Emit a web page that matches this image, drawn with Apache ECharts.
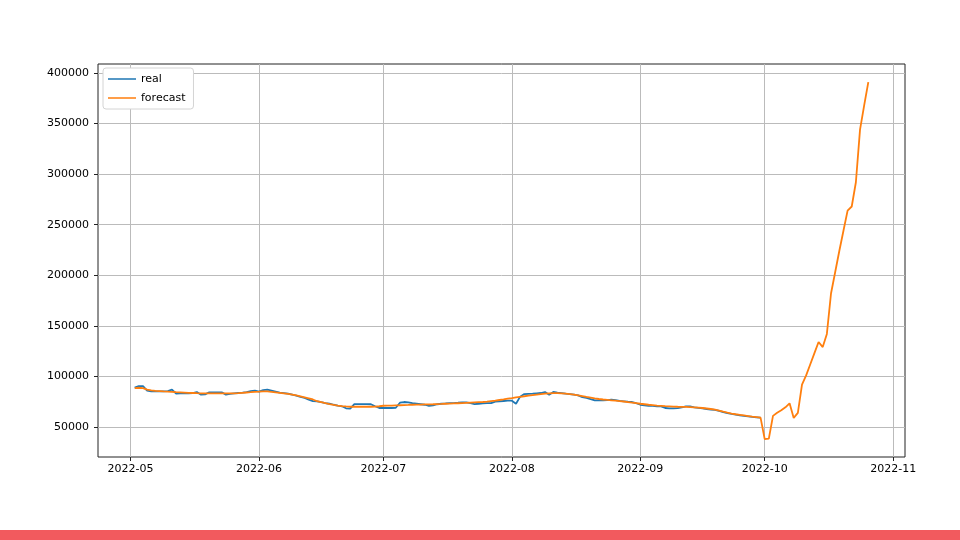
<!DOCTYPE html>
<html>
<head>
<meta charset="utf-8">
<script src="https://cdn.jsdelivr.net/npm/echarts@6/dist/echarts.min.js"></script>
<style>
    html, body { margin: 0; padding: 0; background: #fff; }
    #chart { width: 960px; height: 540px; }
</style>
</head>
<body>
<div id="chart"></div>
<script>
// 实际值 (2022-05-02 起, 按天)
var realMay = [89000, 90500, 90500, 86000, 85300, 85300, 85300, 85300, 85500, 87000,
    83000, 83300, 83300, 83300, 83500, 84600, 82000, 82300, 84300, 84300,
    84300, 84300, 82000, 82800, 83200, 83600, 84000, 84500, 85500, 86000];
var realJun = [85000, 86500, 87000, 86000, 85000, 84000, 83500, 83000, 82000, 81000,
    79800, 78700, 77000, 75500, 75400, 74500, 73700, 73000, 72000, 71100,
    70500, 68500, 68100, 72700, 72700, 72700, 72700, 72500, 70500, 68800];
var realJul = [68800, 68800, 68800, 69000, 74000, 74700, 74400, 73500, 73000, 72500,
    72000, 71000, 71500, 72500, 73000, 73300, 73700, 73700, 74000, 74400,
    74400, 73500, 72700, 73000, 73300, 73700, 73700, 75000, 75400, 75700, 76000];
var realAug = [76000, 73000, 80000, 82600, 82800, 83000, 83300, 83600, 84600, 82000,
    84600, 84000, 83500, 82900, 82500, 82000, 81300, 79500, 78700, 77500,
    76400, 76300, 76300, 76600, 77000, 76500, 75800, 75400, 75000, 74700, 73500];
var realSep = [72000, 71500, 71000, 70800, 70500, 70400, 68800, 68500, 68500, 68600,
    69500, 70400, 70400, 69500, 69000, 68500, 67800, 67300, 67000, 66000,
    64800, 63800, 63000, 62300, 61600, 61000, 60500, 60000, 59600, 59200];

// 预测值 (2022-05-02 起, 按天)
var fcMay = [88500, 88800, 88500, 87000, 86300, 85800, 85500, 85200, 85000, 84700,
    84400, 84200, 84000, 83800, 83600, 83400, 83300, 83200, 83200, 83200,
    83200, 83200, 83200, 83200, 83300, 83500, 83800, 84100, 84400, 84800];
var fcJun = [85000, 85300, 85200, 84800, 84300, 83800, 83300, 82700, 82000, 81200,
    80200, 79200, 78200, 77200, 75500, 74500, 73500, 72600, 71800, 71200,
    70700, 70300, 70000, 70000, 70000, 70000, 70000, 70000, 70200, 70500];
var fcJul = [71000, 71100, 71200, 71400, 71500, 71700, 71800, 72000, 72100, 72200,
    72300, 72400, 72500, 72700, 72800, 73000, 73100, 73300, 73500, 73700,
    73900, 74100, 74300, 74500, 74700, 75000, 75500, 76000, 76700, 77300, 78000];
var fcAug = [78500, 79200, 79800, 80400, 81000, 81500, 82000, 82500, 83000, 83300,
    83500, 83500, 83300, 83000, 82500, 82000, 81300, 80500, 79700, 79000,
    78300, 77700, 77200, 76800, 76400, 76000, 75600, 75200, 74700, 74200, 73600];
var fcSep = [73000, 72500, 72000, 71600, 71200, 70900, 70600, 70400, 70200, 70000,
    69900, 69800, 69700, 69500, 69200, 68800, 68300, 67800, 67200, 66300,
    65200, 64200, 63300, 62600, 62000, 61400, 60800, 60200, 59700, 59200];
var fcOct = [38000, 38500, 61000, 64000, 66500, 69500, 73400, 59000, 64000, 92000,
    101000, 112000, 123000, 134000, 129000, 142000, 182000, 203000, 224000, 244000,
    264000, 268000, 292000, 344000, 368000, 391000];

var startDate = [2022, 4, 2];   // 2022-05-02
var monthTicks = ['2022-05', '2022-06', '2022-07', '2022-08', '2022-09', '2022-10', '2022-11'];
var yTicks = [50000, 100000, 150000, 200000, 250000, 300000, 350000, 400000];

function toSeries(values) {
    var out = [];
    for (var i = 0; i < values.length; i++) {
        out.push([new Date(startDate[0], startDate[1], startDate[2] + i).getTime(), values[i]]);
    }
    return out;
}

var realData = toSeries([].concat(realMay, realJun, realJul, realAug, realSep));
var fcData = toSeries([].concat(fcMay, fcJun, fcJul, fcAug, fcSep, fcOct));

var tickTimes = monthTicks.map(function (s) {
    var p = s.split('-');
    return new Date(+p[0], +p[1] - 1, 1).getTime();
});

var first = fcData[0][0], last = fcData[fcData.length - 1][0];
var pad = (last - first) * 0.05;

// 图例用细线图标 (上下两个空子路径撑开高度)
var lineIcon = 'path://M0,0L28,0L28,0.01Z M0,6.2L28,6.2L28,7.8L0,7.8Z M0,14L28,14L28,13.99Z';

var chart = echarts.init(document.getElementById('chart'));
chart.setOption({
    animation: false,
    backgroundColor: '#fff',
    textStyle: {fontFamily: 'DejaVu Sans'},
    grid: {
        left: 98, right: 55, top: 64, bottom: 83,
        show: true, borderColor: '#222', borderWidth: 1, backgroundColor: '#fff'
    },
    legend: {
        orient: 'vertical',
        left: 103, top: 68,
        padding: [4, 8, 4, 5],
        itemWidth: 28, itemHeight: 14, itemGap: 5,
        icon: lineIcon,
        backgroundColor: '#fff',
        borderColor: '#d4d4d4', borderWidth: 1, borderRadius: 3,
        textStyle: {fontSize: 11, color: '#000', fontFamily: 'DejaVu Sans'},
        data: ['real', 'forecast']
    },
    xAxis: {
        type: 'value',
        min: first - pad,
        max: last + pad,
        axisLine: {show: false},
        axisTick: {show: true, length: 4, lineStyle: {color: '#222'}, customValues: tickTimes},
        axisLabel: {
            customValues: tickTimes,
            margin: 7,
            fontSize: 11, color: '#000',
            formatter: function (v) {
                var d = new Date(v);
                var m = d.getMonth() + 1;
                return d.getFullYear() + '-' + (m < 10 ? '0' + m : m);
            }
        },
        splitLine: {show: true, lineStyle: {color: '#bbbbbb', width: 1}}
    },
    yAxis: {
        type: 'value',
        min: 20340,
        max: 408900,
        axisLine: {show: false},
        axisTick: {show: true, length: 4, lineStyle: {color: '#222'}, customValues: yTicks},
        axisLabel: {
            customValues: yTicks, margin: 9, fontSize: 11, color: '#000',
            formatter: function (v) { return String(v); }
        },
        splitLine: {show: true, lineStyle: {color: '#bbbbbb', width: 1}}
    },
    series: [
        {
            name: 'real',
            type: 'line',
            data: realData,
            symbol: 'none',
            color: '#1f77b4',
            lineStyle: {width: 1.8, color: '#1f77b4'}
        },
        {
            name: 'forecast',
            type: 'line',
            data: fcData,
            symbol: 'none',
            color: '#ff7f0e',
            lineStyle: {width: 1.8, color: '#ff7f0e'}
        }
    ],
    graphic: [{
        type: 'rect',
        left: 0, top: 530,
        shape: {width: 960, height: 10},
        style: {fill: '#f25a5e'}
    }]
});
</script>
</body>
</html>
